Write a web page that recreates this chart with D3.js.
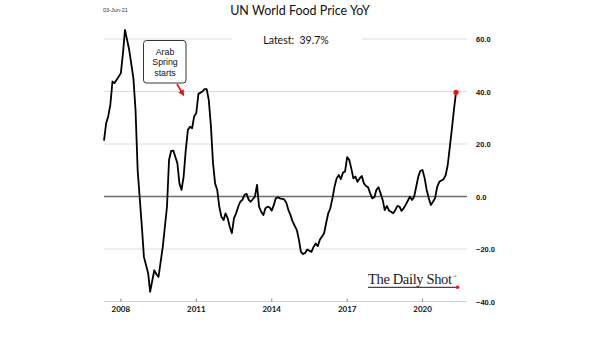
<!DOCTYPE html>
<html><head><meta charset="utf-8">
<script src="https://cdn.jsdelivr.net/npm/d3@7"></script>
<style>body{margin:0;background:#fff}svg{display:block}</style>
</head><body><svg id="c" width="605" height="341"></svg>
<script>
const dates = ["2007-05","2007-06","2007-07","2007-08","2007-09","2007-10","2007-11","2008-01","2008-02","2008-03","2008-05","2008-07","2008-08","2008-09","2008-11","2008-12","2009-02","2009-03","2009-05","2009-06","2009-07","2009-09","2009-11","2009-12","2010-01","2010-02","2010-04","2010-05","2010-06","2010-07","2010-08","2010-09","2010-10","2010-11","2010-12","2011-01","2011-02","2011-04","2011-05","2011-06","2011-07","2011-08","2011-09","2011-10","2011-11","2011-12","2012-01","2012-02","2012-03","2012-04","2012-05","2012-06","2012-07","2012-08","2012-09","2012-10","2012-11","2012-12","2013-01","2013-02","2013-03","2013-05","2013-06","2013-07","2013-08","2013-09","2013-10","2013-11","2013-12","2014-01","2014-02","2014-03","2014-04","2014-05","2014-07","2014-08","2014-09","2014-10","2014-11","2015-01","2015-02","2015-03","2015-04","2015-05","2015-06","2015-08","2015-09","2015-10","2015-11","2015-12","2016-02","2016-03","2016-04","2016-05","2016-06","2016-07","2016-08","2016-09","2016-10","2016-11","2016-12","2017-01","2017-02","2017-03","2017-04","2017-05","2017-06","2017-07","2017-08","2017-09","2017-10","2017-11","2017-12","2018-01","2018-02","2018-03","2018-04","2018-05","2018-06","2018-07","2018-08","2018-09","2018-10","2018-11","2018-12","2019-01","2019-02","2019-03","2019-04","2019-05","2019-07","2019-08","2019-09","2019-10","2019-11","2019-12","2020-01","2020-02","2020-03","2020-04","2020-05","2020-06","2020-07","2020-08","2020-09","2020-11","2020-12","2021-01","2021-02","2021-03","2021-04","2021-05"];
const values = [21.3,27.9,30.5,34.9,43.8,43.2,44.5,47.0,54.7,63.5,55.9,45.1,33.0,10.1,-11.5,-23.0,-29.3,-36.3,-28.1,-29.6,-30.6,-19.2,-3.9,13.9,17.4,17.5,12.7,5.0,2.5,7.6,17.7,25.4,26.6,26.0,30.5,31.8,39.1,40.0,40.9,40.9,36.8,27.0,12.7,5.0,2.5,-3.9,-7.7,-9.0,-6.4,-8.3,-11.5,-14.0,-8.3,-6.4,-3.9,-2.0,-1.3,0.6,1.0,-1.3,-2.0,-0.1,4.4,-3.9,-5.8,-7.1,-4.5,-3.9,-4.1,-5.4,-3.2,-0.7,-0.3,-0.7,-1.1,-2.4,-5.2,-7.1,-9.6,-12.8,-16.6,-21.1,-21.9,-21.5,-20.2,-21.1,-19.2,-17.9,-18.9,-16.5,-14.0,-10.2,-6.4,-4.5,-0.7,3.7,6.9,8.2,6.6,9.1,9.5,15.0,13.9,10.8,6.9,7.6,5.6,6.9,7.8,5.0,4.0,3.5,1.2,-0.7,-0.3,2.5,3.5,1.2,-1.3,-5.2,-3.6,-5.4,-5.8,-6.4,-5.2,-3.6,-3.9,-5.5,-4.5,-3.2,-0.1,-1.3,-0.1,3.7,7.6,9.8,10.1,6.9,2.5,-0.7,-3.2,-2.0,-0.7,3.7,5.6,6.6,8.0,12.0,19.0,25.4,33.0,39.7];
const yTicks = [-40, -20, 0, 20, 40, 60];
const xTickYears = [2008, 2011, 2014, 2017, 2020];
const title = "UN World Food Price YoY";
const dateStamp = "03-Jun-21";
const latestLabel = "Latest:  39.7%";
const annotationLines = ["Arab", "Spring", "starts"];

const parse = d3.timeParse("%Y-%m");
const data = dates.map((d, i) => ({ date: parse(d), value: values[i] }));

const svg = d3.select("#c");
const x = d3.scaleTime().domain([new Date(2007, 4, 1), new Date(2021, 9, 8)]).range([104, 467]);
const y = d3.scaleLinear().domain([-40, 60]).range([301.5, 39]);
const [x0, x1] = x.range();

// gridlines
svg.append("g").selectAll("line").data(yTicks.filter(v => v !== 0)).join("line")
  .attr("x1", x0).attr("x2", x1).attr("y1", d => y(d)).attr("y2", d => y(d))
  .attr("stroke", "#dcdcdc").attr("stroke-width", 1);

// white box behind "Latest"
svg.append("rect").attr("x", 232).attr("y", 30).attr("width", 130).attr("height", 18).attr("fill", "#fff");
svg.append("text").attr("x", 296).attr("y", 43.5).attr("text-anchor", "middle")
  .attr("font-family", "Lato, 'Open Sans', sans-serif").attr("font-size", 10.5).attr("fill", "#111")
  .attr("xml:space", "preserve").style("white-space", "pre").text(latestLabel);

// zero line
svg.append("line").attr("x1", x0).attr("x2", x1).attr("y1", y(0)).attr("y2", y(0))
  .attr("stroke", "#6e6e6e").attr("stroke-width", 1.3);

// y labels
svg.append("g").selectAll("text").data(yTicks).join("text")
  .attr("x", 476).attr("y", d => y(d) + 3)
  .attr("font-family", "'Liberation Sans', Arial, sans-serif").attr("font-weight", "bold")
  .attr("font-size", 7.5).attr("fill", "#111").text(d => d3.format(".1f")(d));

// x axis
const xAxis = svg.append("g");
xAxis.append("line").attr("x1", x0).attr("x2", x1).attr("y1", y(-40)).attr("y2", y(-40))
  .attr("stroke", "#d0d0d0").attr("stroke-width", 1);
const xt = xTickYears.map(yr => new Date(yr, 0, 1));
xAxis.selectAll("line.tk").data(xt).join("line").attr("class", "tk")
  .attr("x1", d => x(d)).attr("x2", d => x(d)).attr("y1", y(-40) - 3).attr("y2", y(-40))
  .attr("stroke", "#888").attr("stroke-width", 1);
xAxis.selectAll("text").data(xt).join("text")
  .attr("x", d => x(d)).attr("y", 312).attr("text-anchor", "middle")
  .attr("font-family", "Lato, 'Liberation Sans', sans-serif").attr("font-weight", "bold")
  .attr("font-size", 8).attr("fill", "#111").text(d => d3.timeFormat("%Y")(d));

// line
svg.append("path").datum(data)
  .attr("d", d3.line().x(d => x(d.date)).y(d => y(d.value)))
  .attr("fill", "none").attr("stroke", "#000").attr("stroke-width", 1.8).attr("stroke-linejoin", "round");

const last = data[data.length - 1];
svg.append("circle").attr("cx", x(last.date)).attr("cy", y(last.value)).attr("r", 2.6).attr("fill", "#e8141c");

// title & stamp
svg.append("text").attr("x", 300).attr("y", 14.5).attr("text-anchor", "middle")
  .attr("font-family", "Lato, 'Open Sans', sans-serif").attr("font-size", 12.5).attr("fill", "#111").text(title);
svg.append("text").attr("x", 103).attr("y", 12).attr("font-family", "'Liberation Sans', Arial, sans-serif")
  .attr("font-size", 5.5).attr("fill", "#333").text(dateStamp);

// annotation
svg.append("rect").attr("x", 143.5).attr("y", 40.5).attr("width", 42.5).attr("height", 42.5).attr("rx", 3)
  .attr("fill", "#fff").attr("stroke", "#333").attr("stroke-width", 1);
svg.append("g").selectAll("text").data(annotationLines).join("text")
  .attr("x", 165).attr("y", (d, i) => 54.5 + i * 10.6).attr("text-anchor", "middle")
  .attr("font-family", "'Liberation Sans', Arial, sans-serif").attr("font-size", 8.8).attr("fill", "#111").text(d => d);
svg.append("defs").append("marker").attr("id", "ah").attr("viewBox", "0 0 10 10").attr("refX", 5).attr("refY", 5)
  .attr("markerWidth", 4).attr("markerHeight", 4).attr("orient", "auto")
  .append("path").attr("d", "M0,0 L10,5 L0,10 z").attr("fill", "#e8141c");
svg.append("line").attr("x1", 177).attr("y1", 84).attr("x2", 182.5).attr("y2", 93.5)
  .attr("stroke", "#e8141c").attr("stroke-width", 1.6).attr("marker-end", "url(#ah)");

// logo
const logo = svg.append("g");
logo.append("text").attr("x", 368).attr("y", 284).attr("font-family", "'Liberation Serif', 'DejaVu Serif', serif")
  .attr("font-size", 14.5).attr("fill", "#222").attr("textLength", 84).text("The Daily Shot");
logo.append("text").attr("x", 453).attr("y", 278).attr("font-family", "'Liberation Serif', serif")
  .attr("font-size", 5).attr("fill", "#222").text("®");
logo.append("line").attr("x1", 368).attr("x2", 457).attr("y1", 287.3).attr("y2", 287.3)
  .attr("stroke", "#444").attr("stroke-width", 1.2);
logo.append("circle").attr("cx", 457.5).attr("cy", 287.3).attr("r", 1.8).attr("fill", "#e8141c");
</script>
</body></html>
